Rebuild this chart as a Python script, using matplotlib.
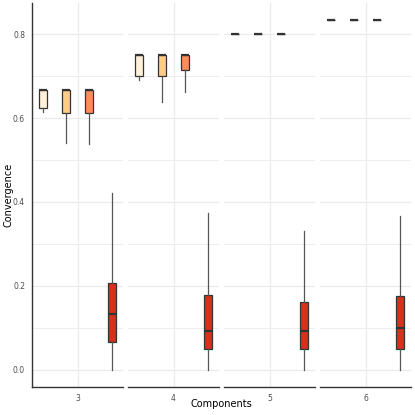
import matplotlib
matplotlib.use("Agg")
import matplotlib.pyplot as plt

components = ["3", "4", "5", "6"]
group_colors = ["#FEF0D9", "#FDCC8A", "#FC8D59", "#D7301F"]

# per component: stats for 4 groups (whislo, q1, med, q3, whishi)
whislo = {"3": [0.615, 0.541, 0.538, 0.0],
          "4": [0.690, 0.638, 0.663, 0.0],
          "5": [0.800, 0.800, 0.800, 0.0],
          "6": [0.8333, 0.8333, 0.8333, 0.0]}
q1 = {"3": [0.625, 0.613, 0.613, 0.065],
      "4": [0.701, 0.701, 0.714, 0.048],
      "5": [0.800, 0.800, 0.800, 0.050],
      "6": [0.8333, 0.8333, 0.8333, 0.050]}
med = {"3": [0.6667, 0.6667, 0.6667, 0.133],
       "4": [0.75, 0.75, 0.75, 0.093],
       "5": [0.800, 0.800, 0.800, 0.091],
       "6": [0.8333, 0.8333, 0.8333, 0.100]}
q3 = {"3": [0.6667, 0.6667, 0.6667, 0.206],
      "4": [0.75, 0.75, 0.75, 0.177],
      "5": [0.800, 0.800, 0.800, 0.162],
      "6": [0.8333, 0.8333, 0.8333, 0.175]}
whishi = {"3": [0.6667, 0.6667, 0.6667, 0.421],
          "4": [0.75, 0.75, 0.75, 0.374],
          "5": [0.800, 0.800, 0.800, 0.331],
          "6": [0.8333, 0.8333, 0.8333, 0.367]}

yticks = [0.0, 0.2, 0.4, 0.6, 0.8]
ytick_labels = ["0.0", "0.2", "0.4", "0.6", "0.8"]

W = H = 415
fig = plt.figure(figsize=(4.15, 4.15), dpi=100)
fig.patch.set_facecolor("white")

panel_left = [32, 128, 224, 320]
panel_w = 91
top, bottom = 3, 387
offsets = [-0.45, -0.15, 0.15, 0.45]
grey_txt = "#4D4D4D"

for i, comp in enumerate(components):
    ax = fig.add_axes([panel_left[i] / W, (H - bottom) / H, panel_w / W, (bottom - top) / H])
    ax.set_xlim(-0.6, 0.6)
    ax.set_ylim(-0.0417, 0.875)
    for y in [0.0, 0.1, 0.2, 0.3, 0.4, 0.5, 0.6, 0.7, 0.8]:
        ax.axhline(y, color="#EBEBEB", lw=0.9 if y in yticks else 0.6, zorder=0)
    ax.axvline(0, color="#EBEBEB", lw=0.9, zorder=0)
    stats = []
    for g in range(4):
        stats.append(dict(whislo=whislo[comp][g], q1=q1[comp][g], med=med[comp][g],
                          q3=q3[comp][g], whishi=whishi[comp][g], fliers=[]))
    bp = ax.bxp(stats, positions=offsets, widths=0.105, patch_artist=True,
                showfliers=False, showcaps=False,
                boxprops=dict(edgecolor="#333333", linewidth=0.9),
                whiskerprops=dict(color="#555555", linewidth=0.9),
                medianprops=dict(color="#333333", linewidth=1.6, solid_capstyle="butt"))
    for patch, c in zip(bp["boxes"], group_colors):
        patch.set_facecolor(c)
    for s in ["top", "right"]:
        ax.spines[s].set_visible(False)
    ax.spines["bottom"].set_color("#333333")
    ax.spines["bottom"].set_linewidth(1.0)
    if i == 0:
        ax.spines["left"].set_color("#333333")
        ax.spines["left"].set_linewidth(1.0)
        ax.set_yticks(yticks)
        ax.set_yticklabels(ytick_labels, fontsize=5.5, color=grey_txt)
        ax.tick_params(axis="y", length=0, pad=5)
    else:
        ax.spines["left"].set_visible(False)
        ax.set_yticks([])
    ax.set_xticks([0])
    ax.set_xticklabels([comp], fontsize=5.5, color=grey_txt)
    ax.tick_params(axis="x", length=0, pad=5)
    ax.set_facecolor("none")

fig.text(221.5 / W, 1 - 404 / H, "Components", ha="center", va="center", fontsize=7, color="black")
fig.text(8 / W, 1 - 195 / H, "Convergence", ha="center", va="center", rotation=90, fontsize=7, color="black")

fig.savefig("out.png", dpi=100, facecolor="white")
